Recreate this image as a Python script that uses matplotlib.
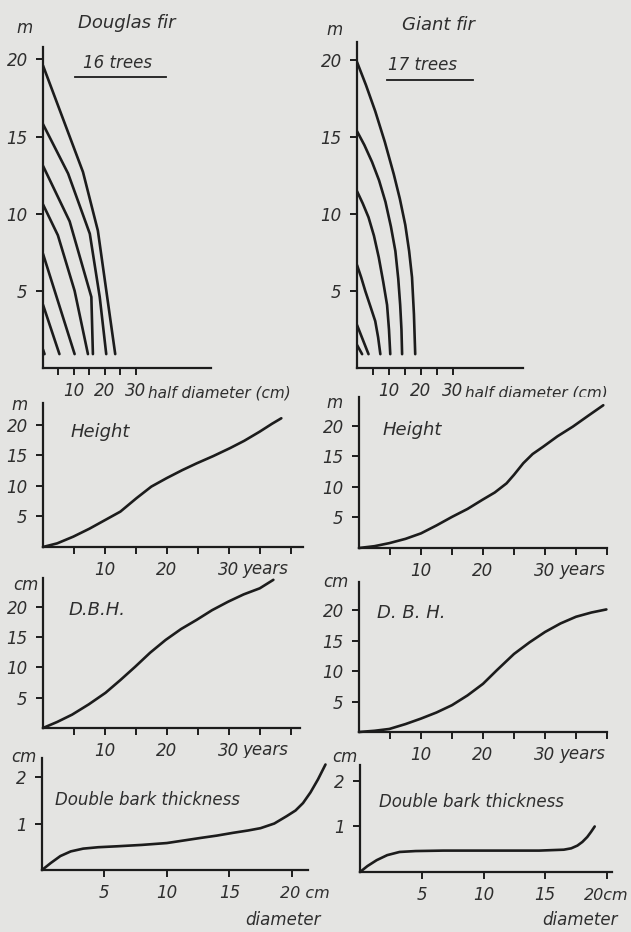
import matplotlib
matplotlib.use("Agg")
import matplotlib.pyplot as plt
from matplotlib.lines import Line2D

# stem profiles: half diameter (cm) vs height (m)
df_profile_x = [
    [0, 12.9, 17.7, 23.3],
    [0, 8.1, 15.1, 18.3, 20.4],
    [0, 8.6, 15.6, 16.1],
    [0, 4.8, 10.2, 14.5],
    [0, 10.2],
    [0, 5.3],
    [0, 0.5],
]
df_profile_h = [
    [19.6, 12.7, 8.9, 0.9],
    [15.8, 12.6, 8.7, 4.6, 0.9],
    [13.1, 9.5, 4.6, 0.9],
    [10.6, 8.6, 5.0, 0.9],
    [7.4, 0.9],
    [4.1, 0.9],
    [1.2, 0.9],
]
gf_profile_x = [
    [0, 2.8, 5.7, 8.7, 11.5, 13.4, 15.1, 16.3, 17.2, 17.8, 18.2],
    [0, 2.3, 4.7, 6.9, 8.9, 10.6, 12.0, 12.9, 13.5, 13.9, 14.1],
    [0, 1.8, 3.6, 5.3, 6.8, 8.2, 9.4, 10.0, 10.4],
    [0, 1.3, 2.6, 4.2, 5.7, 6.6, 7.3],
    [0, 3.6],
    [0, 1.6],
]
gf_profile_h = [
    [19.9, 18.4, 16.7, 14.7, 12.6, 11.0, 9.3, 7.6, 5.9, 3.5, 0.9],
    [15.4, 14.5, 13.4, 12.2, 10.8, 9.2, 7.6, 5.8, 4.1, 2.5, 0.9],
    [11.5, 10.7, 9.8, 8.6, 7.2, 5.6, 4.1, 2.5, 0.9],
    [6.7, 5.9, 5.0, 4.0, 3.05, 2.0, 0.9],
    [2.8, 0.9],
    [1.5, 0.9],
]

# height over age
df_height_age = [0, 2.3, 4.9, 7.5, 10, 12.5, 15.1, 17.5, 20, 22.5, 24.8, 27.5, 30.2, 32.5, 35, 37, 38.5]
df_height_m = [0, 0.6, 1.7, 3.0, 4.4, 5.8, 8.0, 9.9, 11.3, 12.6, 13.7, 14.9, 16.2, 17.4, 18.9, 20.2, 21.1]
gf_height_age = [0, 2.5, 4.9, 7.5, 10, 12.5, 15, 17.5, 19.9, 21.9, 23.8, 25, 26.5, 28, 29.7, 32, 34.5, 37, 39.4]
gf_height_m = [0, 0.3, 0.8, 1.5, 2.4, 3.7, 5.1, 6.4, 7.9, 9.1, 10.6, 12.0, 13.9, 15.4, 16.6, 18.3, 19.9, 21.7, 23.4]

# dbh over age
df_dbh_age = [0, 2.3, 4.7, 7.4, 10.1, 12.5, 14.9, 17.3, 19.8, 22.3, 24.8, 27.3, 29.9, 32.4, 35, 37.2]
df_dbh_cm = [0, 1.0, 2.2, 3.9, 5.8, 7.9, 10.1, 12.4, 14.5, 16.3, 17.8, 19.4, 20.8, 22.0, 23.0, 24.4]
gf_dbh_age = [0, 2.5, 4.9, 7.5, 10, 12.5, 15, 17.5, 20, 22.2, 25, 27.5, 30, 32.5, 35, 37.5, 39.9]
gf_dbh_cm = [0, 0.2, 0.5, 1.3, 2.2, 3.2, 4.4, 6.0, 7.9, 10.1, 12.8, 14.7, 16.4, 17.8, 18.9, 19.6, 20.1]

# double bark thickness over diameter
df_bark_d = [0, 0.7, 1.47, 2.3, 3.3, 4.5, 6, 8, 10, 12.7, 14, 15.3, 16.5, 17.5, 18.6, 19.6, 20.3, 20.9, 21.5, 22.1, 22.7]
df_bark_t = [0, 0.15, 0.3, 0.4, 0.46, 0.49, 0.51, 0.54, 0.58, 0.69, 0.74, 0.8, 0.85, 0.9, 1.0, 1.16, 1.28, 1.44, 1.67, 1.95, 2.27]
gf_bark_d = [0, 0.6, 1.35, 2.2, 3.2, 4.5, 6.75, 9.5, 12.2, 14.5, 16.5, 17.1, 17.6, 18.0, 18.4, 18.7, 19.0]
gf_bark_t = [0, 0.13, 0.26, 0.37, 0.44, 0.46, 0.47, 0.47, 0.47, 0.47, 0.49, 0.52, 0.58, 0.66, 0.77, 0.88, 1.0]

W, H = 631, 932
BG = "#e4e4e2"
INK = "#1c1c1c"
TXT = "#2e2e2e"

plt.rcParams["font.family"] = ["DejaVu Sans"]
plt.rcParams["font.style"] = "italic"

fig = plt.figure(figsize=(W / 100, H / 100), dpi=100, facecolor=BG)


def make_ax(left, right, top, bottom, xmax, ymax):
    ax = fig.add_axes([left / W, 1 - bottom / H, (right - left) / W, (bottom - top) / H])
    ax.set_facecolor(BG)
    ax.set_xlim(0, xmax)
    ax.set_ylim(0, ymax)
    for s in ["top", "right"]:
        ax.spines[s].set_visible(False)
    for s in ["left", "bottom"]:
        ax.spines[s].set_linewidth(1.6)
        ax.spines[s].set_color(INK)
    ax.tick_params(axis="both", direction="out", length=5, width=1.4, color=INK,
                   labelsize=12, labelcolor=TXT)
    ax.tick_params(axis="x", pad=5)
    ax.tick_params(axis="y", pad=6)
    return ax


def ftext(x, y, s, size=12, ha="center"):
    fig.text(x / W, 1 - y / H, s, ha=ha, va="center", fontsize=size, color=TXT)


def after_tick(ax, xval, s, dx, dy, size=12):
    ax.annotate(s, xy=(xval, 0), xycoords=("data", "axes fraction"),
                xytext=(dx, dy), textcoords="offset pixels",
                ha="left", va="center", fontsize=size, color=TXT, annotation_clip=False)


lw = 1.9

# row 1: stem profiles
for (left, right, top, xmax, ymax, xs, hs) in [
    (43, 211, 47, 54.2, 20.8, df_profile_x, df_profile_h),
    (357, 523, 42, 51.9, 21.2, gf_profile_x, gf_profile_h),
]:
    ax = make_ax(left, right, top, 368, xmax, ymax)
    for x, h in zip(xs, hs):
        ax.plot(x, h, color=INK, lw=lw, solid_capstyle="round", solid_joinstyle="round")
    ax.set_yticks([5, 10, 15, 20])
    ax.set_xticks([5, 10, 15, 20, 25, 30], labels=["", "10", "", "20", "", "30"])
    after_tick(ax, 30, "half diameter (cm)", 12, -25, 11)

ftext(25, 28, "m")
ftext(127, 23, "Douglas fir", 13)
ftext(118, 63, "16 trees")
fig.add_artist(Line2D([75 / W, 166 / W], [1 - 77 / H, 1 - 77 / H], color=INK, lw=1.3))
ftext(335, 30, "m")
ftext(438, 25, "Giant fir", 13)
ftext(423, 65, "17 trees")
fig.add_artist(Line2D([387 / W, 473 / W], [1 - 80 / H, 1 - 80 / H], color=INK, lw=1.3))

# rows 2 and 3: height and dbh over age
rows = [
    (43, 303, 403, 547, 42.0, 23.6, df_height_age, df_height_m),
    (359, 607, 397, 548, 40.0, 24.75, gf_height_age, gf_height_m),
    (43, 300, 578, 728, 41.5, 24.7, df_dbh_age, df_dbh_cm),
    (359, 607, 582, 732, 40.0, 24.6, gf_dbh_age, gf_dbh_cm),
]
for (left, right, top, bottom, xmax, ymax, xa, ya) in rows:
    ax = make_ax(left, right, top, bottom, xmax, ymax)
    ax.plot(xa, ya, color=INK, lw=lw, solid_capstyle="round", solid_joinstyle="round", clip_on=False)
    ax.set_yticks([5, 10, 15, 20])
    ticks = [t for t in range(5, int(xmax) + 1, 5)]
    ax.set_xticks(ticks, labels=[str(t) if t in (10, 20, 30) else "" for t in ticks])
    after_tick(ax, 30, "years", 14, -22)

ftext(20, 405, "m")
ftext(100, 432, "Height", 13)
ftext(335, 403, "m")
ftext(412, 430, "Height", 13)
ftext(26, 585, "cm")
ftext(97, 610, "D.B.H.", 13)
ftext(336, 582, "cm")
ftext(411, 613, "D. B. H.", 13)

# row 4: bark thickness
for (left, right, top, bottom, xmax, ymax, xd, yt, cx) in [
    (42, 308, 758, 870, 21.3, 2.41, df_bark_d, df_bark_t, 283),
    (360, 612, 765, 872, 20.4, 2.35, gf_bark_d, gf_bark_t, 580),
]:
    ax = make_ax(left, right, top, bottom, xmax, ymax)
    ax.plot(xd, yt, color=INK, lw=lw, solid_capstyle="round", solid_joinstyle="round", clip_on=False)
    ax.set_yticks([1, 2])
    ax.set_xticks([5, 10, 15, 20], labels=["5", "10", "15", ""])
    ftext(cx, 920, "diameter")
    if cx < 300:
        after_tick(ax, 20, "20 cm", -12, -23, 11.5)

ftext(629, 895, "20cm", 11.5, ha="right")
ftext(24, 757, "cm")
ftext(147, 800, "Double bark thickness", 12)
ftext(345, 757, "cm")
ftext(471, 802, "Double bark thickness", 12)

fig.savefig("out.png", dpi=100, facecolor=BG)
